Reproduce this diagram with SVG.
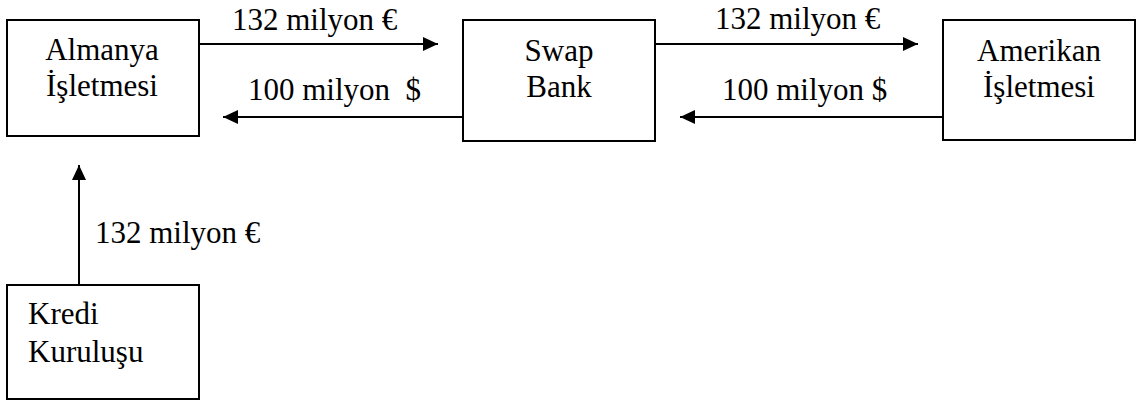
<svg xmlns="http://www.w3.org/2000/svg" width="1137" height="401" viewBox="0 0 1137 401">
<style>
.box{fill:#fff;stroke:#000;stroke-width:2}
.t{font-family:'Liberation Serif','DejaVu Serif',serif;font-size:31px;fill:#000}
.c{text-anchor:middle}
.ln{stroke:#000;stroke-width:2;fill:none}
</style>
<defs>
<marker id="ah" markerUnits="userSpaceOnUse" markerWidth="16" markerHeight="16" viewBox="0 0 16 16" refX="15" refY="8" orient="auto">
<path d="M0,1 L15,8 L0,15 Z" fill="#000"/>
</marker>
</defs>
<rect width="1137" height="401" fill="#fff"/>
<g id="connectors">
<line class="ln" x1="199" y1="44" x2="438" y2="44" marker-end="url(#ah)"/>
<line class="ln" x1="462" y1="117" x2="223" y2="117" marker-end="url(#ah)"/>
<line class="ln" x1="655" y1="44" x2="918" y2="44" marker-end="url(#ah)"/>
<line class="ln" x1="943" y1="117" x2="680" y2="117" marker-end="url(#ah)"/>
<line class="ln" x1="79" y1="285" x2="79" y2="165" marker-end="url(#ah)"/>
<text class="t" x="232" y="30">132 milyon €</text>
<text class="t" x="248" y="100" xml:space="preserve">100 milyon  $</text>
<text class="t" x="715" y="29">132 milyon €</text>
<text class="t" x="722" y="100">100 milyon $</text>
<text class="t" x="95" y="243">132 milyon €</text>
</g>
<g id="almanya">
<rect class="box" x="7" y="20" width="192" height="116"/>
<text class="t c" x="102" y="60">Almanya</text>
<text class="t c" x="102" y="96">İşletmesi</text>
</g>
<g id="swap">
<rect class="box" x="463" y="20" width="192" height="121"/>
<text class="t c" x="559" y="61">Swap</text>
<text class="t c" x="559" y="97">Bank</text>
</g>
<g id="amerikan">
<rect class="box" x="943" y="20" width="192" height="120"/>
<text class="t c" x="1039" y="61">Amerikan</text>
<text class="t c" x="1039" y="97">İşletmesi</text>
</g>
<g id="kredi">
<rect class="box" x="7" y="285" width="192" height="114"/>
<text class="t" x="28" y="324">Kredi</text>
<text class="t" x="28" y="362">Kuruluşu</text>
</g>
</svg>
